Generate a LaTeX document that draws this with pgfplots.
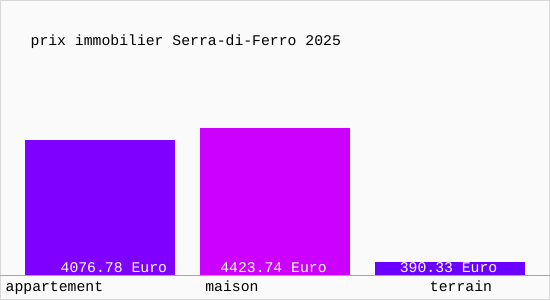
\documentclass[border=0pt]{standalone}
\usepackage{pgfplots}
\pgfplotsset{compat=1.18}
\usepackage{fontspec}
\setmainfont{Liberation Mono}
\definecolor{bgc}{HTML}{FAFAFA}
\definecolor{brd}{HTML}{D8D8D8}
\definecolor{cA}{HTML}{8000FF}
\definecolor{cM}{HTML}{CC00FF}
\definecolor{cT}{HTML}{6A00FF}
\tikzset{lbl/.style={anchor=base west, inner sep=0pt, font=\fontsize{14.8bp}{16bp}\selectfont}}
\tikzset{vlbl/.style={anchor=base east, inner sep=0pt, text=white, font=\fontsize{14.8bp}{16bp}\selectfont}}
\begin{document}
\begin{tikzpicture}
\begin{axis}[
  scale only axis,
  width=550bp, height=300bp,
  xmin=-0.5714, xmax=2.5714,
  ymin=-753, ymax=8283,
  axis line style={draw=none},
  axis background/.style={fill=bgc, draw=brd, line width=1bp},
  xtick=\empty, ytick=\empty,
  ybar, bar width=150bp, bar shift=0pt,
  clip=false,
]
\addplot[fill=cA, draw=none] coordinates {(0,4076.78)};
\addplot[fill=cM, draw=none] coordinates {(1,4423.74)};
\addplot[fill=cT, draw=none] coordinates {(2,390.33)};
\draw[gray!70, line width=1bp] (axis cs:-0.5714,0) -- (axis cs:2.5714,0);
\node[lbl] at (axis cs:-0.4,6928) {prix immobilier Serra-di-Ferro 2025};
\node[lbl] at (axis cs:-0.543,-512) {appartement};
\node[lbl] at (axis cs:0.6,-512) {maison};
\node[lbl] at (axis cs:1.886,-512) {terrain};
\node[vlbl] at (axis cs:0.383,90) {4076.78 Euro};
\node[vlbl] at (axis cs:1.297,90) {4423.74 Euro};
\node[vlbl] at (axis cs:2.274,90) {390.33 Euro};
\end{axis}
\end{tikzpicture}
\end{document}
